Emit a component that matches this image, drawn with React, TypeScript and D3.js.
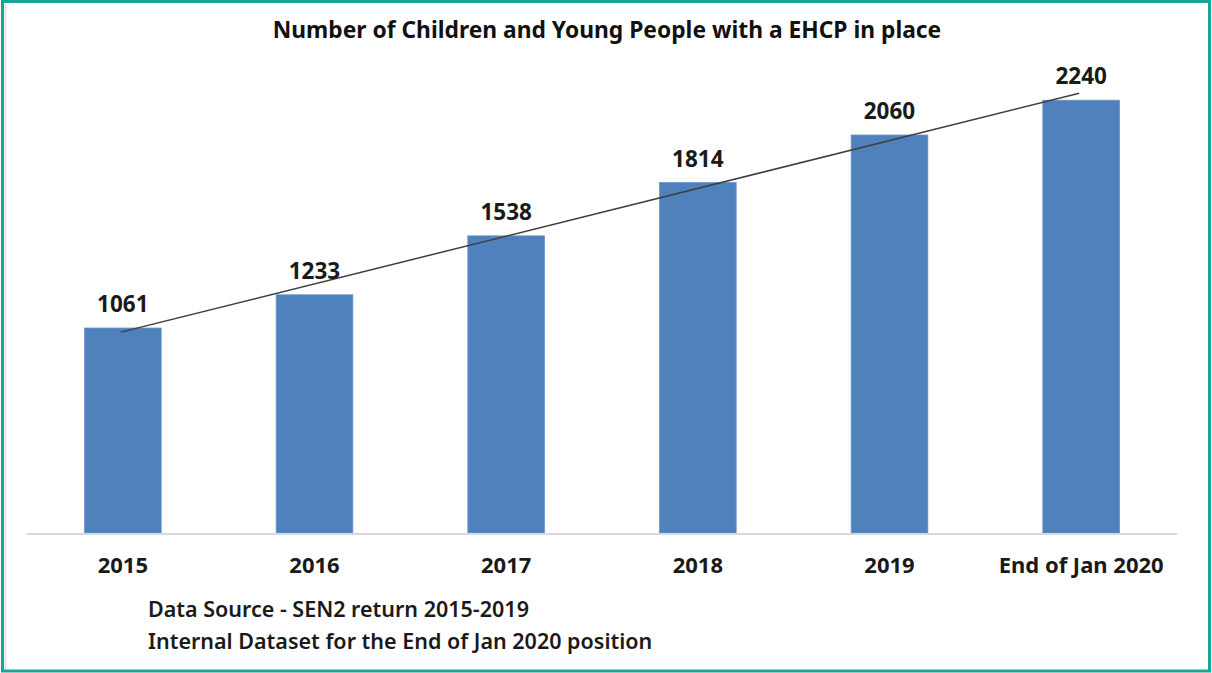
import React, { useEffect, useRef } from 'react';
import * as d3 from 'd3';

const categories = ['2015', '2016', '2017', '2018', '2019', 'End of Jan 2020'];
const ehcpCounts = [1061, 1233, 1538, 1814, 2060, 2240];
const chartTitle = 'Number of Children and Young People with a EHCP in place';
const footerLines = [
    'Data Source - SEN2 return 2015-2019',
    'Internal Dataset for the End of Jan 2020 position',
];

const W = 1212;
const H = 673;
const FONT = '"Noto Sans", "Open Sans", sans-serif';

const App = () => {
    const svgRef = useRef(null);

    useEffect(() => {
        if (!svgRef.current) return;
        const svg = d3.select(svgRef.current);
        svg.selectAll('*').remove();

        // frame
        svg.append('rect')
            .attr('width', W)
            .attr('height', H)
            .attr('fill', '#ffffff');
        svg.append('line')
            .attr('x1', 5.5).attr('x2', 5.5)
            .attr('y1', 4).attr('y2', H - 4)
            .attr('stroke', '#dcdcdc')
            .attr('stroke-width', 1.5);
        svg.append('rect')
            .attr('x', 2.5)
            .attr('y', 1.5)
            .attr('width', W - 5)
            .attr('height', H - 3.5)
            .attr('fill', 'none')
            .attr('stroke', '#17a59a')
            .attr('stroke-width', 3);

        // scales
        const x = d3.scaleBand()
            .domain(categories)
            .range([27, 1177])
            .paddingInner(0.6)
            .paddingOuter(0.3);

        const y = d3.scaleLinear()
            .domain([0, 2500])
            .range([533, 50]);

        // title
        svg.append('text')
            .attr('x', 607)
            .attr('y', 38)
            .attr('text-anchor', 'middle')
            .attr('font-family', FONT)
            .attr('font-weight', 'bold')
            .attr('font-size', '22.8px')
            .attr('fill', '#111')
            .text(chartTitle);

        // bars
        svg.append('g')
            .selectAll('rect')
            .data(ehcpCounts)
            .join('rect')
            .attr('x', (d, i) => x(categories[i]))
            .attr('y', d => y(d))
            .attr('width', x.bandwidth())
            .attr('height', d => y(0) - y(d))
            .attr('fill', '#4f81bd')
            .attr('stroke', '#6a93c8')
            .attr('stroke-width', 0.8);

        // baseline
        svg.append('line')
            .attr('x1', x.range()[0])
            .attr('x2', x.range()[1])
            .attr('y1', y(0) + 1)
            .attr('y2', y(0) + 1)
            .attr('stroke', '#d9d9d9')
            .attr('stroke-width', 2);

        // linear trendline (least squares)
        const idx = ehcpCounts.map((_, i) => i);
        const mx = d3.mean(idx);
        const my = d3.mean(ehcpCounts);
        const slope = d3.sum(idx, i => (i - mx) * (ehcpCounts[i] - my)) / d3.sum(idx, i => (i - mx) ** 2);
        const intercept = my - slope * mx;
        const cx = (i) => x(categories[i]) + x.bandwidth() / 2 - 2;
        const trend = d3.line()
            .x(i => cx(i))
            .y(i => y(intercept + slope * i));
        svg.append('path')
            .datum([0, categories.length - 1])
            .attr('d', trend)
            .attr('fill', 'none')
            .attr('stroke', '#3f3f3f')
            .attr('stroke-width', 1.5);

        // value labels
        svg.append('g')
            .selectAll('text')
            .data(ehcpCounts)
            .join('text')
            .attr('x', (d, i) => x(categories[i]) + x.bandwidth() / 2)
            .attr('y', d => y(d) - 16)
            .attr('text-anchor', 'middle')
            .attr('font-family', FONT)
            .attr('font-weight', 'bold')
            .attr('font-size', '22.5px')
            .attr('fill', '#1a1a1a')
            .text(d => d);

        // category labels
        svg.append('g')
            .selectAll('text')
            .data(categories)
            .join('text')
            .attr('x', d => x(d) + x.bandwidth() / 2)
            .attr('y', 573)
            .attr('text-anchor', 'middle')
            .attr('font-family', FONT)
            .attr('font-weight', 'bold')
            .attr('font-size', '22px')
            .attr('fill', '#1a1a1a')
            .text(d => d);

        // footer notes
        svg.append('g')
            .selectAll('text')
            .data(footerLines)
            .join('text')
            .attr('x', 148)
            .attr('y', (d, i) => 617 + i * 32)
            .attr('font-family', FONT)
            .attr('font-weight', 600)
            .attr('font-size', '21.5px')
            .attr('fill', '#1a1a1a')
            .text(d => d);
    }, []);

    return (
        <div style={{ position: 'absolute', left: 0, top: 0, width: W, height: H }}>
            <svg ref={svgRef} width={W} height={H} viewBox={`0 0 ${W} ${H}`} style={{ display: 'block' }} />
        </div>
    );
};

export default App;
